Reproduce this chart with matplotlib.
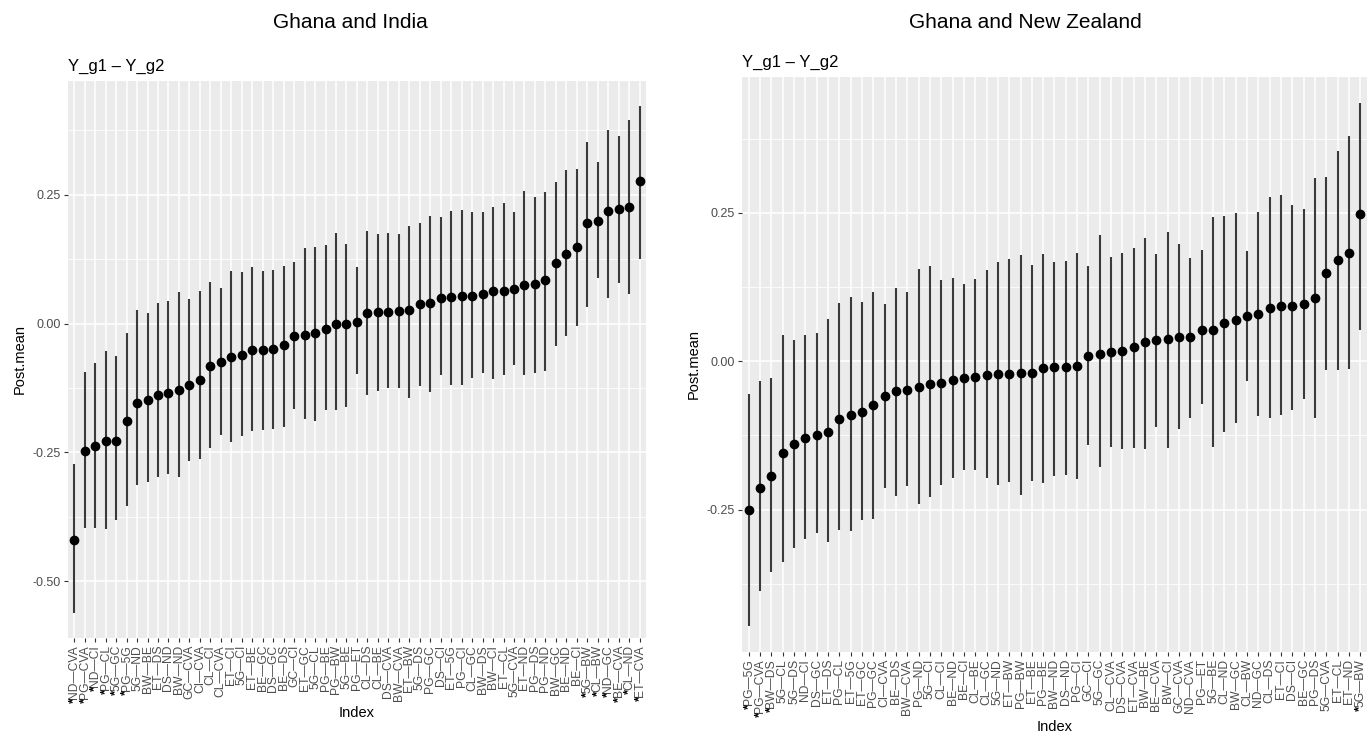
import matplotlib
matplotlib.use("Agg")
import matplotlib.pyplot as plt
import numpy as np

plt.rcParams['font.family'] = ['Liberation Sans', 'DejaVu Sans']

# Ghana vs India: pairwise contrasts, sorted by posterior mean
india_labels = ['*ND—CVA', '*PG—CVA', '*ND—CI', '*PG—CL', '*5G—GC', '*PG—5G', '5G—ND', 'BW—BE',
                'ET—DS', 'DS—ND', 'BW—ND', 'GC—CVA', 'CI—CVA', 'CL—CI', 'CL—CVA', 'ET—CI',
                '5G—CI', 'ET—BE', 'BE—GC', 'DS—GC', 'BE—DS', 'GC—CI', 'ET—GC', '5G—CL',
                'PG—BE', 'PG—BW', '5G—BE', 'PG—ET', 'CL—DS', 'CL—BE', 'DS—CVA', 'BW—CVA',
                'ET—BW', '5G—DS', 'PG—GC', 'DS—CI', 'ET—5G', 'PG—CI', 'CL—GC', 'BW—DS',
                'BW—CI', 'ET—CL', '5G—CVA', 'ET—ND', 'PG—DS', 'PG—ND', 'BW—GC', 'BE—ND',
                'BE—CI', '*5G—BW', '*CL—BW', '*ND—GC', '*BE—CVA', '*CL—ND', '*ET—CVA']
india_mean = [-0.419, -0.247, -0.237, -0.227, -0.227, -0.189, -0.154, -0.149, -0.139, -0.134,
              -0.129, -0.120, -0.110, -0.083, -0.075, -0.064, -0.060, -0.051, -0.051, -0.049,
              -0.042, -0.023, -0.022, -0.019, -0.010, 0.000, 0.000, 0.004, 0.021, 0.023,
              0.023, 0.025, 0.026, 0.038, 0.040, 0.049, 0.052, 0.053, 0.054, 0.057,
              0.063, 0.064, 0.068, 0.076, 0.077, 0.085, 0.118, 0.135, 0.148, 0.195,
              0.200, 0.218, 0.223, 0.226, 0.277]
india_upper = [-0.272, -0.093, -0.077, -0.054, -0.063, -0.019, 0.027, 0.021, 0.041, 0.044,
               0.061, 0.047, 0.063, 0.080, 0.070, 0.103, 0.101, 0.110, 0.103, 0.105,
               0.112, 0.119, 0.146, 0.148, 0.153, 0.175, 0.155, 0.110, 0.179, 0.174,
               0.176, 0.174, 0.189, 0.195, 0.208, 0.207, 0.219, 0.221, 0.217, 0.217,
               0.227, 0.235, 0.216, 0.257, 0.245, 0.255, 0.275, 0.299, 0.301, 0.352,
               0.313, 0.376, 0.364, 0.396, 0.422]
india_lower = [-0.561, -0.397, -0.397, -0.399, -0.381, -0.354, -0.313, -0.308, -0.298, -0.292,
               -0.298, -0.266, -0.262, -0.241, -0.217, -0.229, -0.219, -0.209, -0.206, -0.204,
               -0.201, -0.166, -0.186, -0.188, -0.168, -0.167, -0.161, -0.098, -0.138, -0.130,
               -0.125, -0.125, -0.144, -0.121, -0.133, -0.100, -0.119, -0.119, -0.105, -0.096,
               -0.108, -0.100, -0.080, -0.100, -0.095, -0.092, -0.043, -0.024, -0.005, 0.033,
               0.088, 0.049, 0.079, 0.057, 0.126]

# Ghana vs New Zealand
nz_labels = ['*PG—5G', '*PG—CVA', '*BW—DS', '5G—CL', '5G—DS', 'ND—CI', 'DS—GC', 'ET—DS',
             'PG—CL', 'ET—5G', 'ET—GC', 'PG—GC', 'CI—CVA', 'BE—DS', 'BW—CVA', 'PG—ND',
             '5G—CI', 'CL—CI', 'BE—ND', 'BE—CI', 'CL—BE', 'CL—GC', '5G—ND', 'ET—BW',
             'PG—BW', 'ET—BE', 'PG—BE', 'BW—ND', 'DS—ND', 'PG—CI', 'GC—CI', '5G—GC',
             'CL—CVA', 'DS—CVA', 'ET—CVA', 'BW—BE', 'BE—CVA', 'BW—CI', 'GC—CVA', 'ND—CVA',
             'PG—ET', '5G—BE', 'CL—ND', 'BW—GC', 'CL—BW', 'ND—GC', 'CL—DS', 'ET—CI',
             'DS—CI', 'BE—GC', 'PG—DS', '5G—CVA', 'ET—CL', 'ET—ND', '*5G—BW']
nz_mean = [-0.251, -0.214, -0.194, -0.154, -0.139, -0.130, -0.125, -0.119, -0.097, -0.091,
           -0.085, -0.074, -0.058, -0.051, -0.049, -0.043, -0.039, -0.036, -0.032, -0.029,
           -0.027, -0.024, -0.021, -0.021, -0.020, -0.020, -0.012, -0.010, -0.010, -0.008,
           0.008, 0.012, 0.016, 0.017, 0.024, 0.033, 0.036, 0.037, 0.040, 0.041,
           0.052, 0.052, 0.064, 0.070, 0.076, 0.080, 0.090, 0.093, 0.093, 0.097,
           0.107, 0.149, 0.170, 0.183, 0.248]
nz_upper = [-0.056, -0.034, -0.028, 0.045, 0.036, 0.045, 0.047, 0.071, 0.098, 0.108,
            0.100, 0.116, 0.097, 0.124, 0.117, 0.156, 0.160, 0.137, 0.140, 0.130,
            0.139, 0.154, 0.168, 0.172, 0.179, 0.163, 0.181, 0.168, 0.169, 0.183,
            0.160, 0.213, 0.176, 0.183, 0.191, 0.207, 0.181, 0.218, 0.197, 0.174,
            0.187, 0.243, 0.244, 0.249, 0.186, 0.251, 0.277, 0.280, 0.264, 0.257,
            0.308, 0.311, 0.355, 0.380, 0.435]
nz_lower = [-0.446, -0.388, -0.355, -0.338, -0.315, -0.300, -0.290, -0.305, -0.285, -0.286,
            -0.268, -0.266, -0.213, -0.227, -0.210, -0.241, -0.228, -0.208, -0.197, -0.183,
            -0.183, -0.197, -0.208, -0.204, -0.226, -0.202, -0.205, -0.193, -0.191, -0.199,
            -0.141, -0.178, -0.145, -0.148, -0.146, -0.148, -0.111, -0.146, -0.115, -0.096,
            -0.072, -0.145, -0.120, -0.104, -0.034, -0.092, -0.095, -0.090, -0.083, -0.064,
            -0.096, -0.015, -0.015, -0.013, 0.053]


def contrast_panel(ax, labels, mean, lower, upper, yticks, yminor):
    x = np.arange(len(labels))
    ax.set_facecolor('#EBEBEB')
    ax.vlines(x, lower, upper, color='#3A3A3A', lw=1.5, zorder=3)
    ax.plot(x, mean, 'o', color='black', ms=6, zorder=4)

    lo, hi = min(lower), max(upper)
    pad = 0.05 * (hi - lo)
    ax.set_ylim(lo - pad, hi + pad)
    ax.set_xlim(-0.6, len(labels) - 0.4)

    # significant contrasts get a black star in front of the label
    starred = [lab.startswith('*') for lab in labels]
    plain = [lab.lstrip('*') for lab in labels]
    ax.set_xticks(x)
    ax.set_xticklabels(plain, rotation=90, fontsize=8.7, color='#4D4D4D')
    ax.set_yticks(yticks)
    ax.set_yticklabels(['%.2f' % t for t in yticks], fontsize=9, color='#4D4D4D')
    ax.set_yticks(yminor, minor=True)
    ax.tick_params(axis='both', which='major', length=3, color='#333333', pad=2)
    ax.tick_params(axis='y', which='minor', length=0)

    ax.grid(True, which='major', color='white', lw=1.1)
    ax.grid(True, which='minor', axis='y', color='white', lw=0.55)
    ax.set_axisbelow(True)
    for s in ax.spines.values():
        s.set_visible(False)

    ax.set_xlabel('Index', fontsize=10.5, labelpad=4)
    ax.set_ylabel('Post.mean', fontsize=10.5, labelpad=4)
    ax.set_title('Y_g1 – Y_g2', loc='left', fontsize=12, pad=7)
    return starred


def add_stars(ax, starred):
    fig = ax.figure
    fig.canvas.draw()
    inv = ax.transAxes.inverted()
    for xi, (lab, star) in enumerate(zip(ax.get_xticklabels(), starred)):
        if not star:
            continue
        bb = lab.get_window_extent()
        _, yb = inv.transform((bb.x0, bb.y0 + 1))
        ax.text(xi, yb, '*', transform=ax.get_xaxis_transform(), rotation=90,
                ha='center', va='top', fontsize=9.5, fontweight='bold', color='black',
                clip_on=False)


fig = plt.figure(figsize=(13.7, 7.33), dpi=100)
ax1 = fig.add_axes([0.0496, 0.1296, 0.4219, 0.760])
ax2 = fig.add_axes([0.5416, 0.1105, 0.4562, 0.7845])

s1 = contrast_panel(ax1, india_labels, india_mean, india_lower, india_upper,
                    [-0.50, -0.25, 0.00, 0.25], [-0.375, -0.125, 0.125, 0.375])
s2 = contrast_panel(ax2, nz_labels, nz_mean, nz_lower, nz_upper,
                    [-0.25, 0.00, 0.25], [-0.375, -0.125, 0.125, 0.375])

fig.text(350 / 1370, 1 - 22 / 733, 'Ghana and India', ha='center', va='center', fontsize=15)
fig.text(1025 / 1370, 1 - 22 / 733, 'Ghana and New Zealand', ha='center', va='center', fontsize=15)

add_stars(ax1, s1)
add_stars(ax2, s2)

fig.savefig('out.png', dpi=100)
